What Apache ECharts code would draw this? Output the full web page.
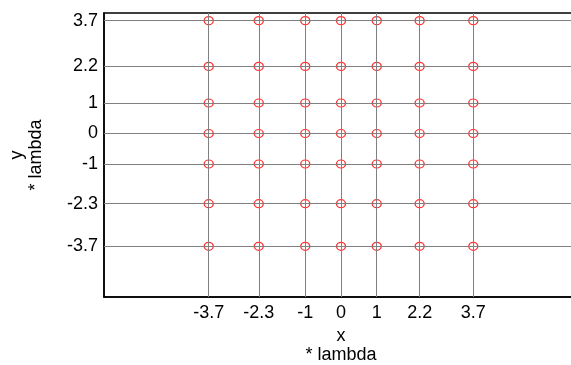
<!DOCTYPE html>
<html><head><meta charset="utf-8">
<script src="https://cdn.jsdelivr.net/npm/echarts@6/dist/echarts.min.js"></script>
<style>html,body{margin:0;padding:0;background:#fff}#c{width:571px;height:365px}</style>
</head><body><div id="c"></div>
<script>
var xTicks = [-3.7, -2.3, -1, 0, 1, 2.2, 3.7];
var yTicks = [-3.7, -2.3, -1, 0, 1, 2.2, 3.7];
var xLabels = ['-3.7', '-2.3', '-1', '0', '1', '2.2', '3.7'];
var yLabels = ['-3.7', '-2.3', '-1', '0', '1', '2.2', '3.7'];
var xPoints = [-3.7, -2.3, -1, 0, 1, 2.2, 3.7];
var yPoints = [3.7, 2.2, 1, 0, -1, -2.3, -3.7];

var pts = [];
xPoints.forEach(function (x) { yPoints.forEach(function (y) { pts.push([x, y]); }); });

var font = 'Liberation Sans, Arial, sans-serif';
var chart = echarts.init(document.getElementById('c'), null, {renderer: 'canvas'});
chart.setOption({
  animation: false,
  grid: {left: 104, top: 13, width: 474, height: 284, outerBoundsMode: 'none', containLabel: false, show: true, borderColor: '#000', borderWidth: 1.5, backgroundColor: 'transparent'},
  xAxis: {
    type: 'value', min: -6.63, max: 6.63,
    axisLine: {show: true, onZero: false, lineStyle: {color: '#000', width: 1.5}},
    axisTick: {show: true, inside: true, length: 4, customValues: xTicks, lineStyle: {color: '#000'}},
    splitLine: {show: false},
    axisLabel: {customValues: xTicks, formatter: function (v) { return xLabels[xTicks.indexOf(v)] || ''; }, color: '#000', fontSize: 18, fontFamily: font, margin: 7},
    name: 'x\n* lambda', nameLocation: 'middle', nameGap: 27,
    nameTextStyle: {color: '#000', fontSize: 18, fontFamily: font, lineHeight: 19, verticalAlign: 'top'}
  },
  yAxis: {
    type: 'value', min: -5.36, max: 3.95,
    axisLine: {show: true, onZero: false, lineStyle: {color: '#000', width: 1.5}},
    axisTick: {show: true, inside: true, length: 4, customValues: yTicks, lineStyle: {color: '#000'}},
    splitLine: {show: false},
    axisLabel: {customValues: yTicks, formatter: function (v) { return yLabels[yTicks.indexOf(v)] || ''; }, color: '#000', fontSize: 18, fontFamily: font, margin: 6},
    name: 'y\n* lambda', nameLocation: 'middle', nameGap: 58, nameRotate: 90,
    nameTextStyle: {color: '#000', fontSize: 18, fontFamily: font, lineHeight: 19}
  },
  series: [
    {
      type: 'scatter', data: [], z: 1, silent: true,
      markLine: {
        silent: true, symbol: ['none', 'none'], label: {show: false}, animation: false,
        lineStyle: {color: '#808080', width: 1, type: 'solid'},
        data: xTicks.map(function (v) { return {xAxis: v}; }).concat(yTicks.map(function (v) { return {yAxis: v}; }))
      }
    },
    {
      type: 'scatter', data: pts, z: 3, symbol: 'circle', symbolSize: [9, 8],
      itemStyle: {color: 'rgba(0,0,0,0)', borderColor: '#ff0000', borderWidth: 1.3}
    }
  ]
});
</script></body></html>
